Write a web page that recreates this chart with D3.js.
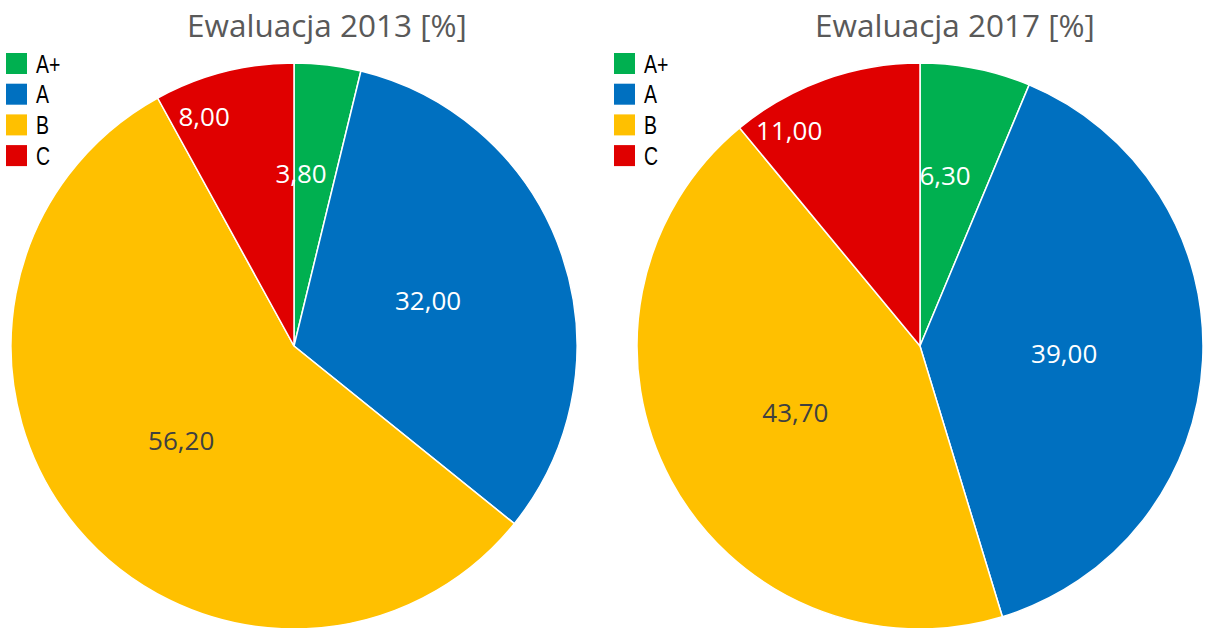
<!DOCTYPE html>
<html>
<head>
<meta charset="utf-8">
<script src="https://cdn.jsdelivr.net/npm/d3@7"></script>
<style>
  body { margin: 0; background: #fff; }
  svg { display: block; }
</style>
</head>
<body>
<script>
var width = 1211,
    height = 628;

// data
var categories = ["A+", "A", "B", "C"];
var titles = ["Ewaluacja 2013 [%]", "Ewaluacja 2017 [%]"];
var values2013 = [3.80, 32.00, 56.20, 8.00];
var values2017 = [6.30, 39.00, 43.70, 11.00];

var colors = ["#00b050", "#0070c0", "#ffc000", "#e00000"];
var labelColors = ["#ffffff", "#ffffff", "#404040", "#ffffff"];

// label placement (fraction of radius, angle nudge in degrees) - mimics excel best fit
var labelPlace = [
  { r: [0.61, 0.50, 0.52, 0.87], nudge: [-4.5, 0, 0, -7] },
  { r: [0.61, 0.51, 0.50, 0.89], nudge: [-3, 0, 0, -11.5] }
];

var charts = [
  { title: titles[0], values: values2013, cx: 294, titleX: 327 },
  { title: titles[1], values: values2017, cx: 920, titleX: 955 }
];
var cy = 346,
    radius = 283;

var fmt = function(v) { return d3.format(".2f")(v).replace(".", ","); };

var svg = d3.select("body").append("svg")
    .attr("width", width)
    .attr("height", height);

var pie = d3.pie().sort(null).value(function(d) { return d; });
var arc = d3.arc().innerRadius(0).outerRadius(radius);

charts.forEach(function(c, ci) {
  var g = svg.append("g");

  // title
  g.append("text")
      .attr("x", c.titleX)
      .attr("y", 37)
      .attr("text-anchor", "middle")
      .style("font-family", "'Open Sans', sans-serif")
      .style("font-size", "31.5px")
      .style("fill", "#595959")
      .text(c.title);

  var pg = g.append("g")
      .attr("transform", "translate(" + c.cx + "," + cy + ")");

  var arcs = pie(c.values);

  pg.selectAll("path")
      .data(arcs)
    .enter().append("path")
      .attr("d", arc)
      .attr("fill", function(d, i) { return colors[i]; })
      .attr("stroke", "#fff")
      .attr("stroke-width", 1.5);

  pg.selectAll("text.lbl")
      .data(arcs)
    .enter().append("text")
      .attr("class", "lbl")
      .attr("transform", function(d, i) {
        var a = (d.startAngle + d.endAngle) / 2 + labelPlace[ci].nudge[i] * Math.PI / 180;
        var rr = radius * labelPlace[ci].r[i];
        return "translate(" + (rr * Math.sin(a)) + "," + (-rr * Math.cos(a)) + ")";
      })
      .attr("text-anchor", "middle")
      .attr("dy", "0.36em")
      .style("font-family", "'Open Sans', sans-serif")
      .style("font-size", "26px")
      .style("fill", function(d, i) { return labelColors[i]; })
      .text(function(d) { return fmt(d.data); });

  // legend
  var legX = ci === 0 ? 6 : 614;
  var leg = g.append("g")
      .attr("transform", "translate(" + legX + ",53)");

  var item = leg.selectAll("g")
      .data(categories)
    .enter().append("g")
      .attr("transform", function(d, i) { return "translate(0," + (i * 30.7) + ")"; });

  item.append("rect")
      .attr("width", 21)
      .attr("height", 21)
      .attr("fill", function(d, i) { return colors[i]; });

  // narrow look of the legend font
  item.append("text")
      .attr("transform", "translate(30,19.5) scale(0.78,1)")
      .style("font-family", "'Liberation Sans', sans-serif")
      .style("font-size", "25px")
      .style("fill", "#000")
      .text(function(d) { return d; });
});
</script>
</body>
</html>
